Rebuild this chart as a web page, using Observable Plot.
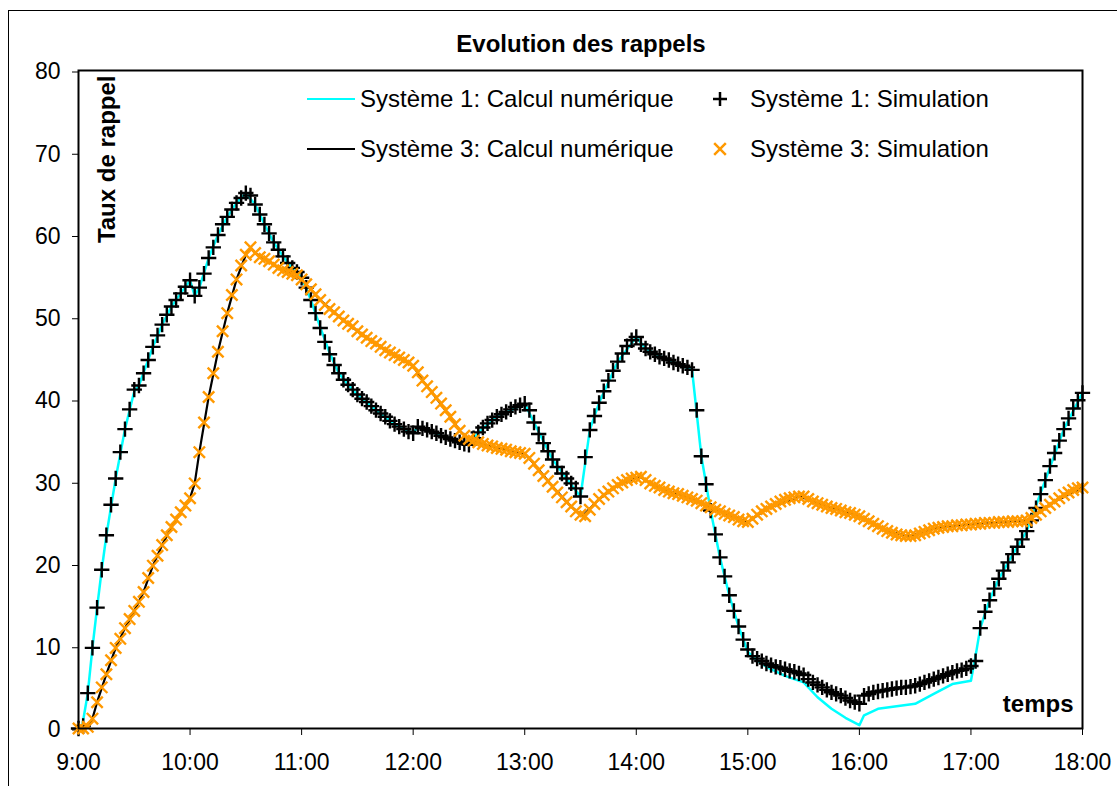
<!DOCTYPE html>
<html>
<head>
<meta charset="utf-8">
<script src="https://cdn.jsdelivr.net/npm/d3@7"></script>
<script src="https://cdn.jsdelivr.net/npm/@observablehq/plot@0.6"></script>
<style>
  html, body { margin: 0; padding: 0; background: #fff; }
  body { width: 1117px; height: 786px; position: relative; overflow: hidden;
         font-family: "Liberation Sans", Arial, sans-serif; color: #000; }
  #chart { position: absolute; left: 0; top: 0; }
  .ov { position: absolute; white-space: nowrap; line-height: 1; }
  .frame-outer { position: absolute; left: 8px; top: 10px; width: 1200px; height: 900px;
                 border-left: 1px solid #000; border-top: 1px solid #000; }
</style>
</head>
<body>
<div class="frame-outer"></div>
<div id="chart"></div>
<script>
// ---------- DATA ----------
const chartTitle = "Evolution des rappels";
const yAxisTitle = "Taux de rappel";
const xAxisTitle = "temps";
const seriesNames = [
  "Système 1: Calcul numérique",
  "Système 1: Simulation",
  "Système 3: Calcul numérique",
  "Système 3: Simulation"
];
const hourTicks = [0, 60, 120, 180, 240, 300, 360, 420, 480, 540];   // minutes after 9:00
const hourLabels = ["9:00", "10:00", "11:00", "12:00", "13:00", "14:00", "15:00", "16:00", "17:00", "18:00"];
const yTicks = [0, 10, 20, 30, 40, 50, 60, 70, 80];

// simulation samples, one every 2.5 minutes from 9:00
const SIM_STEP_MIN = 2.5;
const sys1SimValues = [
  0, 0.3, 4.3, 9.8, 14.7, 19.3, 23.5, 27.2, 30.4, 33.6, 36.4, 38.8,
  41.2, 41.7, 43.2, 44.8, 46.4, 47.8, 49.1, 50.3, 51.3, 52.1, 52.9, 53.7,
  54.5, 52.6, 53.6, 55.3, 57.2, 58.5, 60.0, 61.3, 62.2, 63.1, 63.9, 64.5,
  65.1, 64.8, 63.7, 62.5, 61.3, 60.2, 59.1, 58.2, 57.4, 56.6, 56.0, 55.5,
  54.8, 53.6, 52.1, 50.5, 48.7, 47.0, 45.5, 44.2, 43.2, 42.4, 41.8, 41.2,
  40.6, 40.1, 39.7, 39.2, 38.7, 38.3, 37.9, 37.4, 37.0, 36.7, 36.4, 36.1,
  35.9, 36.7, 36.5, 36.3, 36.1, 35.9, 35.6, 35.4, 35.2, 35.0, 34.8, 34.6,
  34.5, 35.3, 36.0, 36.6, 37.1, 37.5, 37.9, 38.2, 38.5, 38.8, 39.1, 39.3,
  39.5, 38.7, 37.2, 35.8, 34.7, 33.7, 32.7, 31.8, 31.0, 30.4, 29.8, 29.2,
  28.2, 33.0, 36.3, 38.0, 39.6, 41.0, 42.3, 43.5, 44.6, 45.6, 46.5, 47.2,
  47.6, 46.7, 46.2, 45.8, 45.5, 45.2, 45.0, 44.8, 44.5, 44.3, 44.1, 43.9,
  43.6, 38.7, 33.1, 29.7, 26.5, 23.6, 20.8, 18.5, 16.2, 14.3, 12.4, 10.8,
  9.6, 8.8, 8.5, 8.2, 7.9, 7.7, 7.5, 7.4, 7.2, 7.0, 6.9, 6.7,
  6.5, 6.0, 5.6, 5.3, 5.0, 4.7, 4.4, 4.2, 4.0, 3.7, 3.4, 3.2,
  3.0, 4.0, 4.2, 4.4, 4.5, 4.6, 4.7, 4.8, 4.9, 5.0, 5.0, 5.1,
  5.2, 5.4, 5.6, 5.8, 6.0, 6.2, 6.4, 6.6, 6.8, 7.0, 7.1, 7.3,
  7.6, 8.2, 12.2, 14.2, 15.6, 17.0, 18.2, 19.2, 20.2, 21.2, 22.1, 23.0,
  24.0, 25.3, 26.8, 28.5, 30.2, 31.9, 33.5, 35.0, 36.4, 37.7, 38.9, 39.9,
  40.8
];
const sys3SimValues = [
  0, 0, 0.2, 1.2, 3.2, 5.0, 6.6, 8.3, 9.8, 10.9, 12.2, 13.3,
  14.3, 15.4, 16.6, 18.3, 19.8, 21.0, 22.3, 23.5, 24.5, 25.4, 26.3, 27.1,
  28.0, 29.8, 33.6, 37.2, 40.3, 43.2, 45.8, 48.3, 50.5, 52.7, 54.6, 56.3,
  57.6, 58.5, 57.8, 57.3, 57.1, 56.8, 56.4, 56.0, 55.7, 55.5, 55.3, 55.1,
  54.6, 54.0, 53.4, 52.8, 52.1, 51.5, 51.0, 50.6, 50.1, 49.6, 49.2, 48.9,
  48.3, 47.9, 47.5, 47.1, 46.8, 46.4, 46.0, 45.7, 45.4, 45.1, 44.8, 44.5,
  44.1, 43.3, 42.3, 41.6, 40.9, 40.2, 39.5, 38.7, 37.9, 37.0, 36.2, 35.6,
  35.2, 35.0, 34.8, 34.6, 34.4, 34.3, 34.1, 34.0, 33.9, 33.7, 33.6, 33.5,
  33.4, 32.9, 32.2, 31.4, 30.7, 30.1, 29.4, 28.7, 28.1, 27.5, 27.0, 26.4,
  26.0, 25.8, 26.6, 27.3, 27.9, 28.4, 28.8, 29.2, 29.6, 29.9, 30.2, 30.4,
  30.5, 30.6, 30.2, 29.8, 29.5, 29.3, 29.0, 28.8, 28.6, 28.5, 28.3, 28.1,
  27.9, 27.7, 27.4, 27.1, 26.9, 26.6, 26.4, 26.1, 25.9, 25.7, 25.4, 25.2,
  25.1, 25.5, 26.0, 26.4, 26.7, 27.0, 27.3, 27.6, 27.8, 28.0, 28.1, 28.2,
  28.2, 27.9, 27.6, 27.4, 27.2, 27.0, 26.8, 26.7, 26.5, 26.3, 26.2, 26.0,
  25.8, 25.5, 25.2, 24.9, 24.6, 24.3, 24.0, 23.8, 23.6, 23.5, 23.4, 23.4,
  23.5, 23.7, 23.9, 24.1, 24.3, 24.4, 24.5, 24.6, 24.6, 24.7, 24.7, 24.8,
  24.8, 24.9, 24.9, 25.0, 25.0, 25.0, 25.1, 25.1, 25.1, 25.2, 25.2, 25.2,
  25.3, 25.6, 26.0, 26.4, 26.8, 27.2, 27.6, 28.0, 28.4, 28.7, 29.0, 29.2,
  29.3
];

// numerical calculation curves (minutes after 9:00, value)
const calc1Times = [0, 2, 5, 7.5, 10, 12.5, 15, 20, 25, 30, 32.5, 40, 45, 50, 55, 60, 62.5, 65, 70, 75,
  80, 85, 90, 95, 100, 105, 110, 115, 120, 125, 130, 135, 140, 145, 150, 160, 170, 180, 182.5, 195,
  210, 215, 225, 240, 245, 255, 262.5, 270, 275, 280, 290, 300, 305, 315, 330, 335, 340, 345, 350, 355,
  360, 365, 370, 380, 390, 397.5, 405, 412.5, 420, 422.5, 430, 450, 460, 470, 480, 483, 485, 490, 495, 500,
  510, 520, 530, 540];
const calc1Values = [0, 0.3, 4.3, 9.8, 14.7, 19.3, 23.5, 30.4, 36.4, 41.0, 41.7, 46.4, 49.1, 51.3, 52.9, 54.5, 52.6, 53.6, 57.2, 60.0,
  62.2, 63.9, 65.1, 63.7, 61.3, 59.1, 57.4, 56.0, 54.8, 52.1, 48.8, 45.7, 43.2, 41.8, 40.6, 38.7, 37.0, 35.9, 36.7, 35.6,
  34.5, 36.0, 37.9, 39.5, 37.2, 32.7, 30.4, 28.2, 36.3, 39.6, 44.6, 47.6, 46.2, 45.0, 43.6, 33.1, 26.5, 20.8, 16.2, 12.4,
  9.3, 8.3, 7.5, 6.4, 5.6, 3.8, 2.4, 1.3, 0.4, 1.6, 2.4, 3.0, 4.2, 5.4, 5.8, 9.5, 12.2, 15.6, 18.2, 20.2,
  24.0, 30.2, 36.4, 40.8];
const calc3Times = [0, 3, 5, 7.5, 10, 15, 20, 25, 30, 35, 40, 45, 50, 55, 60, 62.5, 65, 70, 75, 80,
  85, 90, 92.5, 95, 100, 110, 120, 130, 140, 150, 160, 170, 180, 185, 190, 200, 205, 210, 220, 240,
  245, 255, 265, 271, 280, 290, 302, 310, 330, 345, 360, 370, 388, 400, 420, 435, 447, 460, 480, 510,
  525, 540];
const calc3Values = [0, 0, 0.2, 1.2, 3.2, 6.6, 9.8, 12.2, 14.3, 16.6, 19.8, 22.3, 24.5, 26.3, 28.0, 29.8, 33.6, 40.3, 45.8, 50.5,
  54.6, 57.6, 58.5, 57.8, 57.1, 55.7, 54.6, 52.1, 50.1, 48.3, 46.8, 45.4, 44.1, 42.3, 40.9, 37.9, 36.2, 35.2, 34.4, 33.4,
  32.2, 29.4, 27.0, 25.8, 27.9, 29.6, 30.6, 29.5, 27.9, 26.4, 25.1, 26.7, 28.2, 27.2, 25.8, 24.0, 23.4, 24.3, 24.8, 25.3,
  27.6, 29.3];

const colors = { cyan: "#00FFFF", black: "#000000", orange: "#FF9900" };

// ---------- BUILD ----------
const sim1 = sys1SimValues.map((v, i) => ({ t: i * SIM_STEP_MIN, v }));
const sim3 = sys3SimValues.map((v, i) => ({ t: i * SIM_STEP_MIN, v }));
const calc1 = calc1Times.map((t, i) => ({ t, v: calc1Values[i] }));
const calc3 = calc3Times.map((t, i) => ({ t, v: calc3Values[i] }));

const FONT = "'Liberation Sans', Arial, sans-serif";

const plot = Plot.plot({
  width: 1117,
  height: 786,
  marginLeft: 78,
  marginRight: 35,
  marginTop: 70,
  marginBottom: 58,
  style: { fontFamily: FONT, fontSize: "23px", color: "#000", background: "transparent", overflow: "visible" },
  x: { domain: [0, 540] },
  y: { domain: [0, 80] },
  marks: [
    Plot.axisY({ ticks: yTicks, tickSize: 6, tickPadding: 12, label: null, dy: 1.5 }),
    Plot.axisX({ ticks: hourTicks, tickFormat: d => hourLabels[hourTicks.indexOf(d)],
                 tickSize: 7, tickPadding: 18, label: null }),
    Plot.line(calc1, { x: "t", y: "v", stroke: colors.cyan, strokeWidth: 2.5 }),
    Plot.dot(sim1, { x: "t", y: "v", symbol: "plus", stroke: colors.black, strokeWidth: 2.4, r: 5 }),
    Plot.line(calc3, { x: "t", y: "v", stroke: colors.black, strokeWidth: 2.2 }),
    Plot.dot(sim3, { x: "t", y: "v", symbol: "times", stroke: colors.orange, strokeWidth: 2.4, r: 5.2 }),
    Plot.frame({ stroke: "#000", strokeWidth: 2 }),
    Plot.text([yAxisTitle], { frameAnchor: "top-left", rotate: -90, textAnchor: "end", lineAnchor: "top",
                              dx: 19, dy: 5, fontWeight: "bold", fontSize: 24 }),
    Plot.text([xAxisTitle], { frameAnchor: "bottom-right", textAnchor: "end", lineAnchor: "middle",
                              dx: -9, dy: -24, fontWeight: "bold", fontSize: 24 })
  ]
});
document.getElementById("chart").appendChild(plot);

// ---------- TITLE & LEGEND (HTML overlay) ----------
function addDiv(style, text) {
  const d = document.createElement("div");
  d.className = "ov";
  Object.assign(d.style, style);
  if (text != null) d.textContent = text;
  document.body.appendChild(d);
  return d;
}
addDiv({ left: "581px", top: "44px", transform: "translate(-50%, -50%)", fontSize: "24px", fontWeight: "bold" }, chartTitle);

const legendRows = [99, 149];
const legendLineColors = [colors.cyan, colors.black];
const legendMarkColors = [colors.black, colors.orange];
const legendMarks = ["plus", "times"];
legendRows.forEach((y, r) => {
  addDiv({ left: "307px", top: (y - 1.5) + "px", width: "48px", height: "2.5px", background: legendLineColors[r] });
  addDiv({ left: "360px", top: y + "px", transform: "translateY(-50%)", fontSize: "24px" }, seriesNames[r * 2]);
  const svgNS = "http://www.w3.org/2000/svg";
  const svg = document.createElementNS(svgNS, "svg");
  svg.setAttribute("width", 14); svg.setAttribute("height", 14);
  svg.style.position = "absolute"; svg.style.left = "713px"; svg.style.top = (y - 7) + "px";
  const p = document.createElementNS(svgNS, "path");
  p.setAttribute("d", d3.symbol(legendMarks[r] === "plus" ? d3.symbolPlus : d3.symbolTimes, 90)());
  p.setAttribute("transform", "translate(7,7)");
  p.setAttribute("stroke", legendMarkColors[r]); p.setAttribute("stroke-width", 2.5); p.setAttribute("fill", "none");
  svg.appendChild(p);
  document.body.appendChild(svg);
  addDiv({ left: "750px", top: y + "px", transform: "translateY(-50%)", fontSize: "24px" }, seriesNames[r * 2 + 1]);
});
</script>
</body>
</html>
